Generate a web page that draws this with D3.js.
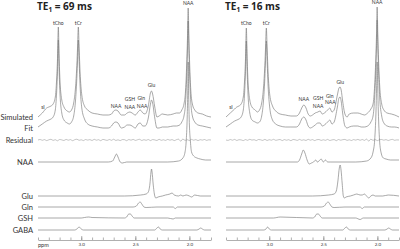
<!DOCTYPE html>
<html>
<head>
<meta charset="utf-8">
<script src="https://cdn.jsdelivr.net/npm/d3@7"></script>
<style>
  body { margin: 0; background: #fff; }
  svg { display: block; }
</style>
</head>
<body>
<div id="chart"></div>
<script>
// Spectra: [ppm, intensity] pairs, intensity is height above the row baseline

const rowLabels = ["Simulated", "Fit", "Residual", "NAA", "Glu", "Gln", "GSH", "GABA"];
const echoTimes = ["69", "16"];
const ppmTicks = [3.0, 2.5, 2.0];
const ppmMinorTicks = [3.4, 3.3, 3.2, 3.1, 3.0, 2.9, 2.8, 2.7, 2.6, 2.5, 2.4, 2.3, 2.2, 2.1, 2.0, 1.9, 1.8];

const simulated69 = [
  [3.40, 0], [3.36, 4], [3.32, 9], [3.30, 10], [3.28, 11], [3.26, 13], [3.24, 20], [3.228, 37], [3.22, 57],
  [3.212, 90], [3.204, 57], [3.196, 35], [3.18, 17], [3.16, 10], [3.13, 6], [3.11, 5], [3.09, 7], [3.07, 14],
  [3.055, 27], [3.043, 47], [3.035, 67], [3.027, 90], [3.019, 67], [3.011, 45], [2.995, 22], [2.97, 11],
  [2.94, 7], [2.90, 4], [2.85, 3], [2.80, 2], [2.75, 2], [2.72, 3], [2.70, 6], [2.68, 7], [2.66, 6], [2.63, 2],
  [2.60, 2], [2.575, 4], [2.55, 5], [2.53, 4], [2.50, 2], [2.475, 5], [2.455, 7], [2.43, 4], [2.41, 3],
  [2.38, 11], [2.36, 24], [2.35, 26], [2.34, 23], [2.32, 10], [2.30, 0], [2.28, 1], [2.25, 3], [2.20, 2],
  [2.15, 3], [2.12, 4], [2.09, 4], [2.07, 7], [2.05, 13], [2.035, 27], [2.025, 52], [2.018, 77], [2.011, 109],
  [2.004, 77], [1.997, 52], [1.987, 27], [1.97, 12], [1.95, 7], [1.92, 4], [1.88, 3], [1.84, 1], [1.80, 0]
];
const fit69 = [
  [3.40, 1], [3.36, 4], [3.32, 7], [3.30, 8], [3.28, 9], [3.26, 11], [3.24, 18], [3.228, 35], [3.22, 55],
  [3.212, 88], [3.204, 55], [3.196, 33], [3.18, 15], [3.16, 8], [3.13, 5], [3.11, 4], [3.09, 6], [3.07, 12],
  [3.055, 25], [3.043, 45], [3.035, 65], [3.027, 88], [3.019, 65], [3.011, 43], [2.995, 20], [2.97, 9],
  [2.94, 4], [2.90, 2], [2.85, 1], [2.80, 0], [2.75, 0], [2.72, 2], [2.70, 5], [2.68, 6], [2.66, 5], [2.63, 0],
  [2.60, 1], [2.575, 3], [2.55, 3], [2.53, 2], [2.50, 0], [2.475, 4], [2.455, 5], [2.43, 2], [2.41, 2],
  [2.38, 10], [2.36, 24], [2.35, 28], [2.34, 25], [2.32, 10], [2.30, 0], [2.28, 0], [2.25, 1], [2.20, 1],
  [2.15, 2], [2.12, 2], [2.09, 3], [2.07, 6], [2.05, 12], [2.035, 26], [2.025, 51], [2.018, 76], [2.011, 107],
  [2.004, 76], [1.997, 51], [1.987, 26], [1.97, 11], [1.95, 6], [1.92, 3], [1.88, 2], [1.84, 1], [1.80, 0]
];
const naa69 = [
  [3.40, 0], [2.75, 0], [2.71, 1], [2.69, 5], [2.675, 8], [2.66, 5], [2.64, 0], [2.62, -1], [2.58, 0],
  [2.20, 0], [2.10, 1], [2.06, 4], [2.04, 10], [2.03, 20], [2.02, 45], [2.015, 70], [2.011, 100],
  [2.007, 70], [2.002, 45], [1.99, 20], [1.98, 10], [1.96, 6], [1.93, 4], [1.90, 3], [1.85, 2], [1.80, 2]
];
const glu69 = [
  [3.40, 0], [2.60, 0], [2.45, 1], [2.40, 2], [2.38, 4], [2.365, 12], [2.355, 24], [2.35, 27], [2.345, 24],
  [2.335, 12], [2.32, 0], [2.31, -2], [2.29, -1], [2.25, 0], [2.22, 1], [2.18, 2], [2.16, 3], [2.14, 1],
  [2.10, 0], [2.08, 1], [2.06, 0], [2.03, 1], [2.00, 0], [1.98, -1], [1.95, 1], [1.90, 0], [1.80, 0]
];
const gln69 = [
  [3.40, 0], [2.52, 0], [2.49, 1], [2.47, 4], [2.455, 5], [2.44, 3], [2.42, 0], [2.40, -0.5], [2.30, 0],
  [2.15, 0], [2.13, -1.5], [2.11, 0], [1.80, 0]
];
const gsh69 = [
  [3.40, 0], [3.00, 0], [2.97, 0.5], [2.93, 1], [2.90, 0.5], [2.60, 0], [2.58, 1], [2.56, 4], [2.545, 4],
  [2.53, 2], [2.51, 0], [2.20, 0], [2.15, -1], [2.13, 0], [1.80, 0]
];
const gaba69 = [
  [3.40, 0], [3.06, 0], [3.04, 1], [3.02, 3], [3.00, 1], [2.98, 0], [2.32, 0], [2.30, 2], [2.285, 3],
  [2.27, 1], [2.25, 0], [1.93, 0], [1.91, 1], [1.895, 2], [1.88, 1], [1.86, 0], [1.80, 0]
];
// residual sampled every 0.02 ppm from 3.4 down to 1.8
const residual69 = [
  0, 0.5, -0.3, 0.4, -0.6, 0.2, 0.7, -0.4, 0.3,
  -0.8, 0.5, 0.1, -0.5, 0.6, -0.2, 0.4, -0.7, 0.3,
  0.8, -0.3, 0.2, -0.6, 0.5, -0.1, 0.4, -0.5, 0.7,
  -0.2, 0.3, -0.7, 0.6, 0.1, -0.4, 0.5, -0.3, 0.8,
  -0.5, 0.2, -0.6, 0.4, 0.3, -0.7, 0.5, -0.2, 0.6,
  -0.4, 0.2, 0.7, -0.5, 0.3, -0.3, 0.5, -0.6, 0.4,
  0.1, -0.5, 0.7, -0.3, 0.2, -0.4, 0.6, -0.2, 0.4,
  -0.6, 0.3, 0.8, -1.2, 1.0, -0.4, 0.3, -0.5, 0.6,
  -0.2, 0.4, -0.6, 0.3, -0.1, 0.5, -0.4, 0.2, 0
];

const simulated16 = [
  [3.40, 0], [3.36, 4], [3.32, 8], [3.30, 10], [3.28, 11], [3.26, 13], [3.24, 20], [3.228, 37], [3.22, 57],
  [3.212, 89], [3.204, 57], [3.196, 35], [3.18, 17], [3.16, 10], [3.13, 7], [3.11, 5], [3.09, 7], [3.07, 14],
  [3.055, 27], [3.043, 47], [3.035, 67], [3.027, 89], [3.019, 67], [3.011, 45], [2.995, 22], [2.97, 11],
  [2.94, 6], [2.90, 3], [2.85, 2], [2.80, 1], [2.75, 1], [2.72, 4], [2.70, 9], [2.68, 12], [2.66, 9],
  [2.64, 3], [2.62, 1], [2.60, 2], [2.575, 4], [2.55, 5], [2.53, 6], [2.51, 3], [2.49, 4], [2.46, 7],
  [2.44, 9], [2.42, 5], [2.40, 7], [2.37, 22], [2.355, 29], [2.345, 30], [2.335, 27], [2.32, 15], [2.30, 3],
  [2.28, 0], [2.26, 3], [2.22, 4], [2.18, 4], [2.15, 3], [2.12, 2], [2.09, 4], [2.06, 8], [2.04, 13],
  [2.025, 32], [2.015, 57], [2.008, 82], [2.002, 110], [1.996, 82], [1.989, 57], [1.979, 32], [1.96, 13],
  [1.94, 7], [1.91, 4], [1.87, 3], [1.84, 2], [1.80, 0]
];
const fit16 = [
  [3.40, 1], [3.36, 4], [3.32, 7], [3.30, 8], [3.28, 9], [3.26, 11], [3.24, 18], [3.228, 35], [3.22, 55],
  [3.212, 87], [3.204, 55], [3.196, 33], [3.18, 15], [3.16, 8], [3.13, 6], [3.11, 5], [3.09, 6], [3.07, 12],
  [3.055, 25], [3.043, 45], [3.035, 65], [3.027, 87], [3.019, 65], [3.011, 43], [2.995, 20], [2.97, 8],
  [2.94, 4], [2.90, 2], [2.85, 1], [2.80, 1], [2.75, 1], [2.72, 4], [2.70, 9], [2.68, 11], [2.66, 8],
  [2.64, 2], [2.62, 0], [2.60, 1], [2.575, 3], [2.55, 5], [2.53, 5], [2.51, 2], [2.49, 3], [2.46, 6],
  [2.44, 8], [2.42, 4], [2.40, 6], [2.37, 21], [2.355, 30], [2.345, 31], [2.335, 27], [2.32, 14], [2.30, 2],
  [2.28, 0], [2.26, 1], [2.22, 2], [2.18, 2], [2.15, 1], [2.12, 1], [2.09, 2], [2.06, 6], [2.04, 12],
  [2.025, 31], [2.015, 56], [2.008, 81], [2.002, 108], [1.996, 81], [1.989, 56], [1.979, 31], [1.96, 12],
  [1.94, 5], [1.91, 2], [1.87, 1], [1.84, 1], [1.80, 0]
];
const naa16 = [
  [3.40, 0], [2.74, 0], [2.72, 2], [2.70, 8], [2.685, 12], [2.67, 9], [2.65, 2], [2.63, -2], [2.61, -1],
  [2.59, 0], [2.57, 2], [2.555, 0], [2.54, 1], [2.52, 3], [2.50, 0], [2.48, 2], [2.46, 0], [2.43, 0],
  [2.20, 0], [2.10, 1], [2.06, 4], [2.04, 10], [2.025, 22], [2.013, 50], [2.007, 75], [2.002, 100],
  [1.997, 75], [1.991, 50], [1.98, 22], [1.965, 9], [1.945, 4], [1.92, 3], [1.88, 2], [1.80, 2]
];
const glu16 = [
  [3.40, 0], [2.60, 0], [2.45, 1], [2.40, 2], [2.38, 5], [2.365, 15], [2.352, 28], [2.344, 31], [2.336, 26],
  [2.325, 12], [2.315, 0], [2.305, -2], [2.29, -1], [2.25, 0], [2.22, 1], [2.19, 2], [2.16, 1], [2.14, 1],
  [2.12, 2], [2.10, 0], [2.08, -2], [2.06, 0], [2.04, 1], [2.02, 0], [1.95, 0], [1.90, 1], [1.80, 0]
];
const gln16 = [
  [3.40, 0], [2.52, 0], [2.49, 1], [2.47, 4], [2.455, 5], [2.44, 3], [2.42, 0], [2.40, -0.5], [2.30, 0],
  [2.16, 0], [2.14, -1.5], [2.12, 0], [1.80, 0]
];
const gsh16 = [
  [3.40, 0], [2.96, 0], [2.93, 0.5], [2.90, 1], [2.60, 0], [2.58, 1], [2.56, 4], [2.545, 4], [2.53, 2],
  [2.51, 0], [2.20, 0], [2.16, -1.5], [2.13, 0], [1.80, 0]
];
const gaba16 = [
  [3.40, 0], [3.05, 0], [3.03, 1], [3.015, 3], [3.00, 1], [2.98, 0], [2.32, 0], [2.30, 2], [2.285, 3],
  [2.27, 1], [2.25, 0], [1.93, 0], [1.91, 1], [1.895, 2], [1.88, 1], [1.86, 0], [1.80, 0]
];
const residual16 = [
  0, -0.4, 0.5, -0.2, 0.6, -0.5, 0.3, 0.1, -0.6,
  0.4, -0.3, 0.7, -0.1, 0.3, -0.6, 0.5, 0.2, -0.4,
  0.6, -0.5, 0.3, -0.2, 0.7, -0.3, 0.1, 0.5, -0.6,
  0.4, -0.2, 0.3, -0.7, 0.5, 0.2, -0.4, 0.6, -0.3,
  0.2, -0.5, 0.7, -0.2, 0.4, -0.6, 0.3, 0.5, -0.4,
  0.2, -0.3, 0.6, -0.5, 0.1, 0.4, -0.7, 0.5, -0.2,
  0.3, 0.6, -0.4, 0.2, -0.5, 0.4, -0.1, 0.6, -0.3,
  0.5, -0.4, 0.9, -1.1, 0.8, -0.3, 0.4, -0.6, 0.3,
  0.5, -0.2, 0.4, -0.5, 0.2, 0.6, -0.3, 0.1, 0
];

// peak annotations: [label, ppm, intensity above the Simulated baseline]
const peakLabels69 = [
  ["tCho", 3.212, 92], ["tCr", 3.027, 92], ["sI", 3.354, 8], ["NAA", 2.678, 9], ["GSH", 2.55, 16],
  ["NAA", 2.55, 8], ["Gln", 2.445, 17], ["NAA", 2.437, 9], ["Glu", 2.35, 30], ["NAA", 2.011, 112]
];
const peakLabels16 = [
  ["tCho", 3.212, 92], ["tCr", 3.027, 92], ["sI", 3.354, 8], ["NAA", 2.68, 16], ["GSH", 2.548, 17],
  ["NAA", 2.548, 9], ["Gln", 2.44, 19], ["NAA", 2.435, 13], ["Glu", 2.344, 33], ["NAA", 2.002, 113]
];

const panelData = [
  { te: echoTimes[0], traces: [simulated69, fit69, residual69, naa69, glu69, gln69, gsh69, gaba69], labels: peakLabels69 },
  { te: echoTimes[1], traces: [simulated16, fit16, residual16, naa16, glu16, gln16, gsh16, gaba16], labels: peakLabels16 }
];

const width = 400, height = 249;
const panelLeft = [38, 226];
const panelWidth = 173;
const rowBase = [117, 128, 140, 162, 196, 207, 218, 230];
const axisY = 240;
const lineColor = "#7a7a7a";
const textColor = "#333";

const svg = d3.select("#chart").append("svg")
  .attr("width", width)
  .attr("height", height)
  .style("font-family", "Lato, 'Open Sans', sans-serif");

// intensity scale: one unit per pixel, upwards
const y = d3.scaleLinear().domain([0, 100]).range([0, -100]);

// row labels on the left
svg.append("g").selectAll("text")
  .data(rowLabels)
  .enter()
  .append("text")
  .attr("x", 33)
  .attr("y", (d, i) => rowBase[i] + 2.5)
  .attr("text-anchor", "end")
  .style("font-size", "7.5px")
  .style("fill", textColor)
  .text(d => d);

panelData.forEach((panel, p) => {
  const x = d3.scaleLinear().domain([3.4, 1.8]).range([panelLeft[p], panelLeft[p] + panelWidth]);
  const g = svg.append("g");

  // title
  const title = g.append("text")
    .attr("x", panelLeft[p] - 1)
    .attr("y", 10)
    .style("font-family", "'Open Sans', sans-serif")
    .style("font-size", "10px")
    .style("font-weight", "bold")
    .style("fill", "#222");
  title.append("tspan").text("TE");
  title.append("tspan").attr("dy", 2).style("font-size", "6.5px").text("1");
  title.append("tspan").attr("dy", -2).text(" = " + panel.te + " ms");

  // traces
  panel.traces.forEach((trace, r) => {
    const isResidual = !Array.isArray(trace[0]);
    const pts = isResidual ? trace.map((v, i) => [3.4 - i * 0.02, v]) : trace;
    const line = d3.line()
      .x(d => x(d[0]))
      .y(d => rowBase[r] + y(d[1]))
      .curve(d3.curveMonotoneX);
    g.append("path")
      .datum(pts)
      .attr("fill", "none")
      .attr("stroke", isResidual ? "#8a8a8a" : lineColor)
      .attr("stroke-width", isResidual ? 0.5 : 0.65)
      .attr("stroke-linejoin", "round")
      .attr("d", line);
  });

  // peak labels
  g.append("g").selectAll("text")
    .data(panel.labels)
    .enter()
    .append("text")
    .attr("x", d => x(d[1]))
    .attr("y", d => rowBase[0] + y(d[2]))
    .attr("text-anchor", "middle")
    .style("font-size", "5px")
    .style("fill", textColor)
    .text(d => d[0]);

  // ppm axis, ticks pointing up
  const minor = g.append("g")
    .attr("transform", `translate(0,${axisY})`)
    .call(d3.axisBottom(x).tickValues(ppmMinorTicks).tickSizeInner(-2.5).tickSizeOuter(0).tickFormat(""));
  minor.select(".domain").attr("stroke", lineColor).attr("stroke-width", 0.6);
  minor.selectAll(".tick line").attr("stroke", lineColor).attr("stroke-width", 0.6);

  const major = g.append("g")
    .attr("transform", `translate(0,${axisY})`)
    .call(d3.axisBottom(x).tickValues(ppmTicks).tickSizeInner(-4).tickSizeOuter(0).tickPadding(3).tickFormat(d3.format(".1f")));
  major.select(".domain").remove();
  major.selectAll(".tick line").attr("stroke", lineColor).attr("stroke-width", 0.6);
  major.selectAll(".tick text")
    .style("font-size", "4.5px")
    .style("font-family", "Lato, sans-serif")
    .attr("fill", textColor);

  if (p === 0) {
    g.append("text")
      .attr("x", panelLeft[p])
      .attr("y", 247)
      .style("font-size", "5.5px")
      .style("fill", textColor)
      .text("ppm");
  }
});
</script>
</body>
</html>
